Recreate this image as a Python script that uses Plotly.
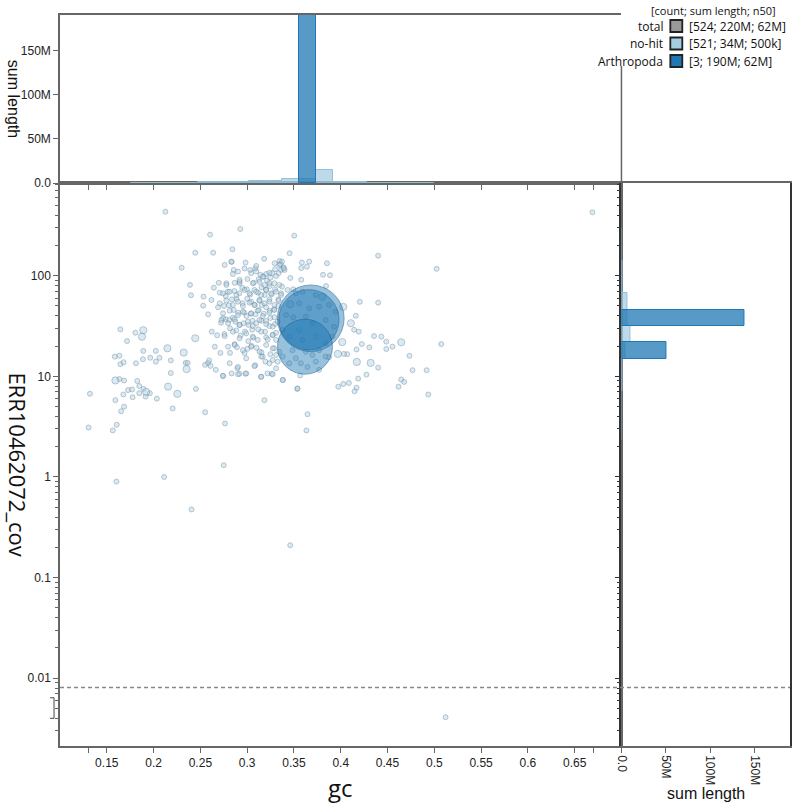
import math
import plotly.graph_objects as go

# ---------------- data ----------------
# no-hit contigs (gc, coverage) - small contigs
NOHIT_GC = [
    0.2126, 0.2445, 0.230, 0.240, 0.1645, 0.1805, 0.1717, 0.1585, 0.1635, 0.1645, 0.168, 0.189, 0.2024,
    0.1886, 0.1964, 0.2024, 0.2063, 0.2184, 0.2343, 0.2364, 0.1812, 0.2184, 0.1635, 0.1685, 0.1826,
    0.1727, 0.177, 0.1847, 0.196, 0.2452, 0.1677, 0.1847, 0.1776, 0.1914, 0.2035, 0.132, 0.1592, 0.1685,
    0.1653, 0.2204, 0.1606, 0.1306, 0.1564, 0.2113, 0.1603, 0.2406, 0.1893,
    0.275, 0.346, 0.512, 0.669,
    0.440, 0.5025, 0.440, 0.4434, 0.4487, 0.4487, 0.4554, 0.5074, 0.4735, 0.440, 0.4767, 0.4918, 0.4646,
    0.4678, 0.4618, 0.4936,
    0.2927, 0.2604, 0.3503, 0.2843, 0.2637, 0.3454, 0.2834, 0.2983, 0.3182, 0.3347, 0.3663, 0.3585,
    0.3853, 0.3638, 0.3578, 0.2856, 0.3089, 0.339, 0.3362, 0.3811, 0.3885, 0.3461, 0.3578, 0.3843,
    0.2534, 0.2697, 0.2644, 0.2778,
    0.4204, 0.4161, 0.4143, 0.4193, 0.4225, 0.4356, 0.4069, 0.4275, 0.4186, 0.4027, 0.3974, 0.4169,
    0.4148, 0.3535, 0.3645, 0.3634, 0.3185, 0.2763, 0.2551, 0.4306, 0.4169, 0.4034, 0.4087,
    0.2622, 0.2679, 0.2714, 0.2665, 0.2742, 0.2834, 0.2895, 0.2919, 0.2983, 0.2551, 0.2583, 0.2594,
    0.2817, 0.2866, 0.2891, 0.2972, 0.3004, 0.3047, 0.31, 0.3153, 0.3167, 0.3195, 0.3086, 0.315, 0.3217,
    0.3263, 0.3309, 0.3383, 0.3273, 0.3248, 0.3309, 0.3288, 0.3309, 0.3273, 0.3309, 0.3203, 0.3114,
    0.3065, 0.3012, 0.293, 0.2884, 0.2817, 0.2757, 0.2976, 0.3054, 0.3118, 0.3192, 0.3238, 0.3298,
    0.2721, 0.2771, 0.2742, 0.281, 0.2848, 0.2874, 0.2919, 0.2962, 0.3015, 0.3057, 0.3097, 0.3153,
    0.3203, 0.3248, 0.3291, 0.2905, 0.2969, 0.2994, 0.3039, 0.3089, 0.3124, 0.3177, 0.3203, 0.3241,
    0.3288, 0.3333, 0.2689, 0.2753, 0.2806, 0.2856, 0.2838, 0.2887, 0.2951, 0.3001, 0.3043, 0.3082,
    0.3132, 0.3156, 0.3188, 0.3238, 0.3262, 0.3333, 0.3362, 0.2771, 0.2792, 0.2863, 0.2916, 0.2948,
    0.2997, 0.3033, 0.3078, 0.3118, 0.3153, 0.3203, 0.3241, 0.3298, 0.3373, 0.3432, 0.3493, 0.2707,
    0.2919, 0.3004, 0.3071, 0.3124, 0.3177, 0.3213, 0.3248, 0.3266, 0.3203, 0.3142, 0.3298, 0.3344,
    0.3373, 0.34, 0.3097, 0.3033, 0.2848, 0.2583, 0.253, 0.2619, 0.2389, 0.2654, 0.2608,
    0.3521, 0.3591, 0.3734, 0.3556, 0.3663, 0.3769, 0.3875, 0.3946, 0.3415, 0.3493, 0.3627, 0.3697,
    0.3839, 0.3928, 0.3379, 0.345, 0.3556, 0.3591, 0.3734, 0.3839, 0.391, 0.3485, 0.3627, 0.3697,
    0.3769, 0.3839, 0.3521, 0.3574, 0.3734, 0.3875, 0.345, 0.3645, 0.3379, 0.3567, 0.3769,
    0.276, 0.2831, 0.2902, 0.2972, 0.3043, 0.3097, 0.3167, 0.3238, 0.3309, 0.3355, 0.339, 0.3294,
    0.3336, 0.2919,
    0.2778, 0.2866, 0.2919, 0.306, 0.3132, 0.3185, 0.3238, 0.3291, 0.3344,
    0.2742, 0.2813, 0.2884, 0.2972, 0.3025, 0.3097, 0.315, 0.3203, 0.3256, 0.3309, 0.3362,
    0.2707, 0.2778, 0.2848, 0.2902, 0.2955, 0.3025, 0.3078, 0.3132, 0.3185, 0.3238, 0.3291, 0.3336,
    0.2742, 0.2813, 0.2902, 0.2955, 0.3043, 0.3114, 0.3167, 0.3238, 0.3291,
    0.2725, 0.2796, 0.2866, 0.2919, 0.3007, 0.306, 0.3132, 0.3203, 0.3273, 0.3326,
    0.276, 0.2848, 0.2919, 0.299, 0.306, 0.315, 0.322, 0.3273,
    0.2796, 0.2866, 0.2955, 0.3043, 0.3132, 0.3203, 0.3273, 0.3344,
    0.2813, 0.2902, 0.299, 0.3078, 0.315, 0.3238, 0.3326,
    0.2742, 0.2902, 0.299, 0.315, 0.3273, 0.3379, 0.3539,
]
NOHIT_COV = [
    432, 169, 120, 64, 29.3, 27.1, 22.4, 15.7, 16.0, 13.2, 13.8, 17.9, 17.9,
    14.8, 15.3, 14.0, 15.3, 14.4, 13.6, 13.6, 13.5, 10.8, 9.4, 9.1, 9.0,
    7.3, 7.4, 8.0, 6.8, 7.5, 6.6, 6.8, 6.2, 6.3, 6.0, 6.7, 5.8, 5.0,
    4.5, 4.8, 3.3, 3.1, 2.9, 1.0, 0.90, 0.476, 7.5,
    1.31, 0.21, 0.0041, 427,
    158, 117, 54, 24.8, 22.1, 18.7, 19.7, 20.9, 16.0, 12.2, 11.5, 11.5, 9.3,
    8.8, 7.9, 6.6,
    291, 256, 250, 183, 169, 167, 137, 135, 147, 140, 138, 135,
    133, 123, 119, 114, 118, 121, 114, 102, 101, 95, 91, 79,
    62, 85, 76, 84,
    55, 40, 29, 27.8, 20.9, 25.1, 16.6, 10.4, 9.5, 8.4, 7.9, 7.7,
    7.1, 7.5, 4.2, 2.9, 5.8, 3.4, 4.4, 19.4, 18.5, 16.7, 8.6,
    27.8, 25.6, 17.1, 11.6, 10.1, 10.7, 12.0, 10.6, 10.6, 13.0, 13.6, 14.4,
    17.1, 20.9, 19.5, 17.1, 18.8, 20.1, 19.2, 17.3, 15.7, 14.0, 12.9, 9.9, 10.7,
    10.6, 12.0, 9.2, 14.5, 16.6, 16.3, 19.0, 23.0, 25.8, 27.1, 24.4, 23.0,
    24.2, 22.4, 25.4, 28.6, 30.0, 26.3, 27.8, 29.1, 29.3, 27.8, 31.6, 33.1,
    34.1, 36.9, 37.8, 36.3, 38.3, 34.9, 32.4, 33.7, 32.4, 35.7, 33.7, 35.7,
    35.5, 38.0, 38.6, 42.9, 42.9, 39.7, 41.9, 41.3, 45.6, 41.9, 48.6, 44.9,
    46.3, 50.0, 48.6, 50, 50.8, 45.6, 58.2, 58.6, 53.2, 59.0, 55.2, 51.2,
    57.3, 51.2, 64.3, 58.2, 65.3, 58.2, 66.8, 62.8, 69.3, 70.4, 66.8, 75.5,
    73.3, 64.8, 72.2, 67.8, 76.7, 72.2, 79.1, 73.3, 77.9, 72.2, 73.3, 67.8,
    84, 92.7, 85.1, 92, 97.8, 89.1, 95.5, 106, 104, 102, 116, 128,
    138, 114, 110, 114, 104, 41.3, 50.4, 57.3, 81, 19.7, 12.7,
    66.8, 69.3, 64.3, 53.2, 47.4, 49.2, 51.2, 43.9, 40.6, 38.6, 39.1, 33.7,
    36.3, 31.1, 28.9, 24.8, 28.9, 23, 24.8, 21.3, 24.8, 18.2, 17.6, 16.3,
    18.2, 15.7, 15.1, 13.5, 14.0, 15.5, 13.5, 12.4, 15.7, 10.2, 11.6,
    128, 138, 110, 118, 106, 125, 97.8, 107, 99.3, 130, 118, 133,
    106, 87,
    81, 85, 91, 84, 87, 81, 84, 84, 81,
    66.8, 69.3, 64.3, 72.2, 66.8, 69.3, 64.3, 72.2, 66.8, 69.3, 64.3,
    53.2, 56.5, 51.2, 55.2, 50, 54, 51.2, 56.5, 53.2, 55.2, 51.2, 56.5,
    42.3, 44.9, 40.6, 43.9, 42.3, 44.9, 39.7, 42.9, 45.6,
    36.3, 33.7, 36.9, 32.4, 34.9, 31.6, 36.3, 33.1, 31.1, 34.9,
    25.1, 27.8, 23.9, 26.7, 24.8, 27.8, 23.3, 25.8,
    19.7, 20.5, 18.2, 19.7, 17.6, 20.5, 19, 17.6,
    13.5, 12.4, 15.1, 12.6, 15.7, 13.5, 14,
    10.1, 10.5, 10.7, 9.9, 10.5, 9.2, 7.6,
]
NOHIT_SMALL_LEN = 20000

# larger no-hit contigs (gc, coverage, length)
NOHIT_BIG_GC = [0.189, 0.1876, 0.2445, 0.2148, 0.2322, 0.2353, 0.1592, 0.2155, 0.1921, 0.2254,
                0.4646, 0.4027, 0.4108, 0.4016, 0.397, 0.4172, 0.432, 0.3804, 0.3461]
NOHIT_BIG_COV = [28.7, 24.8, 23.9, 19.0, 17.2, 11.8, 9.1, 7.9, 7.0, 6.7,
                 21.8, 49, 33.7, 21.9, 16.7, 13.9, 13.6, 61.8, 52]
NOHIT_BIG_LEN = [200000] * 19

# Arthropoda contigs
ARTH_GC = [0.368, 0.366, 0.3618]
ARTH_COV = [37.7, 36.5, 19.7]
ARTH_LEN = [77e6, 62e6, 51e6]

# top histogram: sum length per gc bin (Mb)
GC_BIN_WIDTH = 0.018
GC_BIN_CENTRES = [0.1846, 0.2026, 0.2206, 0.2386, 0.2566, 0.2746, 0.2926, 0.3106, 0.3286, 0.3466,
                  0.3646, 0.3826, 0.4006, 0.4186, 0.4366, 0.4546, 0.4726, 0.4906]
NOHIT_GC_SUM_M = [0.3, 0.3, 0.4, 0.5, 0.6, 1.0, 1.2, 2.2, 2.3, 4.5, 4.0, 14.7, 0.8, 0.6, 0.4, 0.3, 0.2, 0.2]
ARTH_GC_SUM_M = [0, 0, 0, 0, 0, 0, 0, 0, 0, 0, 190, 0, 0, 0, 0, 0, 0, 0]

# right histogram: sum length per log10(coverage) bin (Mb)
COV_BIN_WIDTH_LOG = 0.162
COV_BIN_CENTRES_LOG = [0.447, 0.609, 0.771, 0.933, 1.095, 1.257, 1.419, 1.581, 1.743, 1.905, 2.067, 2.229, 2.391]
NOHIT_COV_SUM_M = [0.1, 0.2, 0.4, 0.8, 1.5, 4.0, 9.8, 7.0, 7.3, 1.5, 0.8, 0.3, 0.2]
ARTH_COV_SUM_M = [0, 0, 0, 0, 0, 51, 0, 139, 0, 0, 0, 0, 0]

GC_TICKS = [0.13, 0.15, 0.2, 0.25, 0.3, 0.35, 0.4, 0.45, 0.5, 0.55, 0.6, 0.65, 0.67]
GC_TICK_TEXT = ["", "0.15", "0.2", "0.25", "0.3", "0.35", "0.4", "0.45", "0.5", "0.55", "0.6", "0.65", ""]
COV_MAJOR = [0.01, 0.1, 1, 10, 100]
COV_MAJOR_TEXT = ["0.01", "0.1", "1", "10", "100"]
LEN_TICKS = [0, 50e6, 100e6, 150e6]
LEN_TICK_TEXT = ["0.0", "50M", "100M", "150M"]

ZERO_LINE_COV = 0.0081
ZERO_BAND = [0.004, 0.0064]

LEGEND_HEADER = "[count; sum length; n50]"
LEGEND_NAMES = ["total", "no-hit", "Arthropoda"]
LEGEND_VALUES = ["[524; 220M; 62M]", "[521; 34M; 500k]", "[3; 190M; 62M]"]
LEGEND_COLORS = ["#999999", "#a6cee3", "#1f78b4"]

# ---------------- layout geometry ----------------
W, H = 799, 807
ML, MR, MT, MB = 60, 7, 15, 61
PW, PH = W - ML - MR, H - MT - MB
X_SPLIT = (623 - ML) / PW
Y_SPLIT = (H - MB - 183) / PH
GC_RANGE = [0.1, 0.7]
COV_RANGE_LOG = [-2.673, 2.921]
LEN_RANGE = [0, 190e6]


def px_x(px):
    return (px - ML) / PW


def px_y(py):
    return (H - MB - py) / PH


def cov_to_paper(v):
    return Y_SPLIT * (math.log10(v) - COV_RANGE_LOG[0]) / (COV_RANGE_LOG[1] - COV_RANGE_LOG[0])


def diam(length):
    return 2 * (2.0 + 0.00357 * math.sqrt(length))


def nonzero(xs, vs):
    pairs = [(x, v) for x, v in zip(xs, vs) if v > 0]
    return [p[0] for p in pairs], [p[1] * 1e6 for p in pairs]


COV_MINOR = [m * 10 ** e for e in range(-3, 3) for m in range(2, 10)
             if COV_RANGE_LOG[0] <= math.log10(m * 10 ** e) <= COV_RANGE_LOG[1]]

NOHIT_FILL = "rgba(166,206,227,0.6)"
NOHIT_LINE = "rgba(90,120,145,0.7)"
ARTH_FILL = "rgba(31,120,180,0.65)"
ARTH_LINE = "rgba(25,95,150,0.8)"
AXC = "#666666"
TICKFONT = dict(family="Liberation Sans, Arial", size=12, color="#222222")

fig = go.Figure()

# scatter
fig.add_trace(go.Scatter(
    x=NOHIT_GC + NOHIT_BIG_GC, y=NOHIT_COV + NOHIT_BIG_COV, mode="markers",
    marker=dict(size=[diam(NOHIT_SMALL_LEN)] * len(NOHIT_GC) + [diam(v) for v in NOHIT_BIG_LEN],
                color=NOHIT_FILL, line=dict(color=NOHIT_LINE, width=0.8)),
    xaxis="x", yaxis="y", hoverinfo="skip"))
fig.add_trace(go.Scatter(
    x=ARTH_GC, y=ARTH_COV, mode="markers",
    marker=dict(size=[diam(v) for v in ARTH_LEN], color=ARTH_FILL, line=dict(color=ARTH_LINE, width=1)),
    xaxis="x", yaxis="y", hoverinfo="skip"))

NOHIT_BAR = dict(color="rgba(166,206,227,0.75)", line=dict(color="rgba(140,190,220,0.9)", width=1))
ARTH_BAR = dict(color="rgba(31,120,180,0.75)", line=dict(color="rgba(31,120,180,1)", width=1))

# top histogram
bx, by = nonzero(GC_BIN_CENTRES, NOHIT_GC_SUM_M)
fig.add_trace(go.Bar(x=bx, y=by, width=GC_BIN_WIDTH, marker=NOHIT_BAR, xaxis="x2", yaxis="y2", hoverinfo="skip"))
bx, by = nonzero(GC_BIN_CENTRES, ARTH_GC_SUM_M)
fig.add_trace(go.Bar(x=bx, y=by, width=GC_BIN_WIDTH, marker=ARTH_BAR, xaxis="x2", yaxis="y2", hoverinfo="skip"))

# right histogram
by, bx = nonzero(COV_BIN_CENTRES_LOG, NOHIT_COV_SUM_M)
fig.add_trace(go.Bar(y=by, x=bx, width=COV_BIN_WIDTH_LOG, orientation="h", marker=NOHIT_BAR,
                     xaxis="x3", yaxis="y3", hoverinfo="skip"))
by, bx = nonzero(COV_BIN_CENTRES_LOG, ARTH_COV_SUM_M)
fig.add_trace(go.Bar(y=by, x=bx, width=COV_BIN_WIDTH_LOG, orientation="h", marker=ARTH_BAR,
                     xaxis="x3", yaxis="y3", hoverinfo="skip"))

common = dict(showgrid=False, zeroline=False, showline=True, linecolor=AXC, linewidth=1.5,
              mirror=True, ticks="outside", ticklen=5, tickcolor=AXC, tickfont=TICKFONT)

shapes = [
    dict(type="line", xref="paper", yref="paper", x0=0, x1=1,
         y0=cov_to_paper(ZERO_LINE_COV), y1=cov_to_paper(ZERO_LINE_COV),
         line=dict(color="#888888", width=1.5, dash="4px,3px"), layer="above"),
    dict(type="path", xref="paper", yref="paper",
         path="M {a},{t} L {b},{t} L {b},{u} L {a},{u}".format(
             a=px_x(50), b=px_x(54), t=cov_to_paper(ZERO_BAND[1]), u=cov_to_paper(ZERO_BAND[0])),
         line=dict(color="#444444", width=1)),
    # right edge of the top histogram frame (hidden behind the legend at the top)
    dict(type="line", xref="paper", yref="paper", x0=X_SPLIT, x1=X_SPLIT, y0=Y_SPLIT, y1=px_y(66),
         line=dict(color=AXC, width=1.5)),
]

annotations = [
    dict(text="gc", xref="paper", yref="paper", x=X_SPLIT / 2, y=px_y(787), showarrow=False,
         xanchor="center", yanchor="middle", font=dict(family="Open Sans", size=24, color="#111")),
    dict(text="ERR10462072_cov", xref="paper", yref="paper", x=px_x(17), y=Y_SPLIT / 2, showarrow=False,
         textangle=90, xanchor="center", yanchor="middle", font=dict(family="Open Sans", size=22, color="#111")),
    dict(text="sum length", xref="paper", yref="paper", x=px_x(14), y=px_y(99), showarrow=False,
         textangle=90, xanchor="center", yanchor="middle",
         font=dict(family="Liberation Sans, Arial", size=16, color="#111")),
    dict(text="sum length", xref="paper", yref="paper", x=(X_SPLIT + 1) / 2, y=px_y(793), showarrow=False,
         xanchor="center", yanchor="middle", font=dict(family="Liberation Sans, Arial", size=16, color="#111")),
    dict(text=LEGEND_HEADER, xref="paper", yref="paper", x=px_x(780), y=px_y(10), showarrow=False,
         xanchor="right", yanchor="middle", font=dict(family="Open Sans", size=11, color="#111")),
]
row_y = [26, 43.5, 61]
for name, val, col, yy in zip(LEGEND_NAMES, LEGEND_VALUES, LEGEND_COLORS, row_y):
    annotations.append(dict(text=name, xref="paper", yref="paper", x=px_x(667), y=px_y(yy), showarrow=False,
                            xanchor="right", yanchor="middle", font=dict(family="Open Sans", size=12, color="#111")))
    annotations.append(dict(text=val, xref="paper", yref="paper", x=px_x(689), y=px_y(yy), showarrow=False,
                            xanchor="left", yanchor="middle", font=dict(family="Open Sans", size=12, color="#111")))
    shapes.append(dict(type="rect", xref="paper", yref="paper", x0=px_x(672), x1=px_x(684),
                       y0=px_y(yy + 6), y1=px_y(yy - 6), fillcolor=col,
                       line=dict(color="#222222", width=1.8), layer="above"))

fig.update_layout(
    width=W, height=H, margin=dict(l=ML, r=MR, t=MT, b=MB),
    paper_bgcolor="white", plot_bgcolor="white", showlegend=False, barmode="overlay", bargap=0,
    xaxis=dict(domain=[0, X_SPLIT], anchor="y", range=GC_RANGE, tickmode="array",
               tickvals=GC_TICKS, ticktext=GC_TICK_TEXT, **common),
    yaxis=dict(domain=[0, Y_SPLIT], anchor="x", type="log", range=COV_RANGE_LOG, tickmode="array",
               tickvals=COV_MAJOR, ticktext=COV_MAJOR_TEXT,
               minor=dict(tickmode="array", tickvals=COV_MINOR, ticks="outside", ticklen=3, tickcolor=AXC,
                          showgrid=False),
               **common),
    xaxis2=dict(domain=[0, X_SPLIT], anchor="y2", range=GC_RANGE, tickmode="array",
                tickvals=GC_TICKS, showticklabels=False, **common),
    yaxis2=dict(domain=[Y_SPLIT, 1], anchor="x2", range=LEN_RANGE, tickmode="array",
                tickvals=LEN_TICKS, ticktext=LEN_TICK_TEXT, **{**common, "mirror": False}),
    xaxis3=dict(domain=[X_SPLIT, 1], anchor="y3", range=LEN_RANGE, tickmode="array",
                tickvals=LEN_TICKS, ticktext=LEN_TICK_TEXT, tickangle=90, **common),
    yaxis3=dict(domain=[0, Y_SPLIT], anchor="x3", range=COV_RANGE_LOG, tickmode="array",
                tickvals=[math.log10(v) for v in COV_MAJOR], showticklabels=False,
                minor=dict(tickmode="array", tickvals=[math.log10(v) for v in COV_MINOR], ticks="outside",
                           ticklen=3, tickcolor="#333333", showgrid=False),
                **{**common, "linecolor": "#333333", "tickcolor": "#333333"}),
    shapes=shapes, annotations=annotations,
)

fig.write_html("out.html")
